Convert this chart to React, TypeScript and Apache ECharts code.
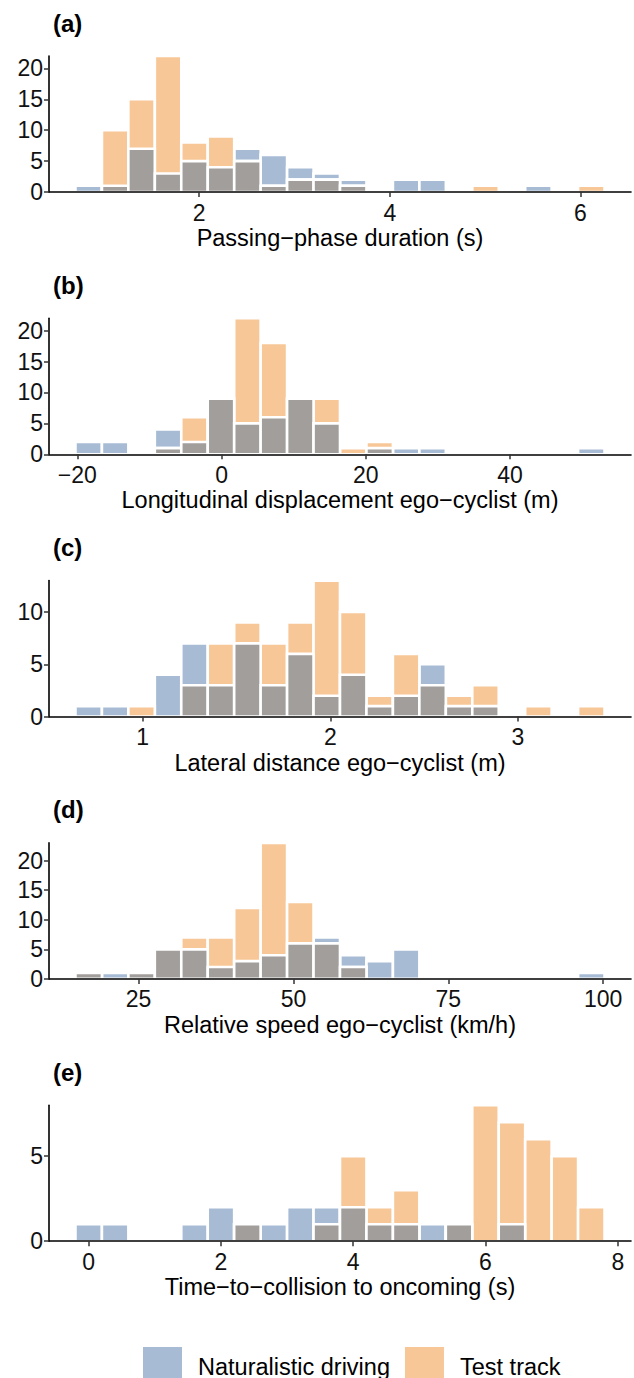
import React, { useEffect, useRef } from 'react';
import * as echarts from 'echarts';

// ---------- colours ----------
const BLUE = '#a7bcd4';
const ORANGE = '#f7c797';
const GREY = '#a29e9c';
const FONT = '"Liberation Sans", Arial, Helvetica, sans-serif';

// ---------- data ----------
const panelLabels = ['(a)', '(b)', '(c)', '(d)', '(e)'];
const axisTitles = [
  'Passing\u2212phase duration (s)',
  'Longitudinal displacement ego\u2212cyclist (m)',
  'Lateral distance ego\u2212cyclist (m)',
  'Relative speed ego\u2212cyclist (km/h)',
  'Time\u2212to\u2212collision to oncoming (s)',
];
const seriesNames = ['Naturalistic driving', 'Test track'];

// (a) Passing-phase duration
const binWidthA = 0.2776;
const centersA = [0.840, 1.118, 1.395, 1.673, 1.950, 2.228, 2.506, 2.783, 3.061, 3.338, 3.616, 3.894, 4.171, 4.449, 4.726, 5.004, 5.282, 5.559, 5.837, 6.114];
const naturalA = [1, 1, 7, 3, 5, 4, 7, 6, 4, 3, 2, 0, 2, 2, 0, 0, 0, 1, 0, 0];
const testA = [0, 10, 15, 22, 8, 9, 5, 1, 2, 2, 1, 0, 0, 0, 0, 1, 0, 0, 0, 1];
const xTicksA = [2, 4, 6];
const yTicksA = [0, 5, 10, 15, 20];

// (b) Longitudinal displacement
const binWidthB = 3.668;
const centersB = [-18.42, -14.752, -11.084, -7.416, -3.748, -0.08, 3.588, 7.256, 10.924, 14.592, 18.26, 21.928, 25.596, 29.264, 32.932, 36.6, 40.268, 43.936, 47.604, 51.272];
const naturalB = [2, 2, 0, 4, 2, 9, 5, 6, 9, 5, 0, 1, 1, 1, 0, 0, 0, 0, 0, 1];
const testB = [0, 0, 0, 1, 6, 9, 22, 18, 9, 9, 1, 2, 0, 0, 0, 0, 0, 0, 0, 0];
const xTicksB = [-20, 0, 20, 40];
const yTicksB = [0, 5, 10, 15, 20];

// (c) Lateral distance
const binWidthC = 0.141;
const centersC = [0.712, 0.853, 0.994, 1.135, 1.276, 1.417, 1.558, 1.699, 1.840, 1.981, 2.122, 2.263, 2.404, 2.545, 2.686, 2.827, 2.968, 3.109, 3.250, 3.391];
const naturalC = [1, 1, 0, 4, 7, 3, 7, 3, 6, 2, 4, 1, 2, 5, 1, 1, 0, 0, 0, 0];
const testC = [0, 0, 1, 0, 3, 7, 9, 7, 9, 13, 10, 2, 6, 3, 2, 3, 0, 1, 0, 1];
const xTicksC = [1, 2, 3];
const yTicksC = [0, 5, 10];

// (d) Relative speed
const binWidthD = 4.27;
const centersD = [16.95, 21.22, 25.49, 29.76, 34.03, 38.30, 42.57, 46.84, 51.11, 55.38, 59.65, 63.92, 68.19, 72.46, 76.73, 81.00, 85.27, 89.54, 93.81, 98.08];
const naturalD = [1, 1, 1, 5, 5, 2, 3, 4, 6, 7, 4, 3, 5, 0, 0, 0, 0, 0, 0, 1];
const testD = [1, 0, 1, 5, 7, 7, 12, 23, 13, 6, 2, 0, 0, 0, 0, 0, 0, 0, 0, 0];
const xTicksD = [25, 50, 75, 100];
const yTicksD = [0, 5, 10, 15, 20];

// (e) Time-to-collision
const binWidthE = 0.4;
const centersE = [0, 0.4, 0.8, 1.2, 1.6, 2.0, 2.4, 2.8, 3.2, 3.6, 4.0, 4.4, 4.8, 5.2, 5.6, 6.0, 6.4, 6.8, 7.2, 7.6];
const naturalE = [1, 1, 0, 0, 1, 2, 1, 1, 2, 2, 2, 1, 1, 1, 1, 0, 1, 0, 0, 0];
const testE = [0, 0, 0, 0, 0, 0, 1, 0, 0, 1, 5, 2, 3, 0, 1, 8, 7, 6, 5, 2];
const xTicksE = [0, 2, 4, 6, 8];
const yTicksE = [0, 5];

const panels = [
  { w: binWidthA, centers: centersA, natural: naturalA, test: testA, xTicks: xTicksA, yTicks: yTicksA },
  { w: binWidthB, centers: centersB, natural: naturalB, test: testB, xTicks: xTicksB, yTicks: yTicksB },
  { w: binWidthC, centers: centersC, natural: naturalC, test: testC, xTicks: xTicksC, yTicks: yTicksC },
  { w: binWidthD, centers: centersD, natural: naturalD, test: testD, xTicks: xTicksD, yTicks: yTicksD },
  { w: binWidthE, centers: centersE, natural: naturalE, test: testE, xTicks: xTicksE, yTicks: yTicksE },
];

// ---------- layout ----------
const GRID_LEFT = 49;
const GRID_WIDTH = 582;
const FIRST_TOP = 56;
const STEP = 262.3;
const PLOT_H = 136;
const TICK_FONT = 23;
const TITLE_FONT = 23.5;

const fmt = (v: number) => (v < 0 ? '\u2212' + Math.abs(v) : String(v));

function makeRender(color: string) {
  return (params: any, api: any) => {
    const c = api.value(0);
    const h = api.value(1);
    const w = api.value(2);
    if (!h) return null;
    const p0 = api.coord([c - w / 2, h]);
    const p1 = api.coord([c + w / 2, 0]);
    return {
      type: 'rect',
      shape: { x: p0[0], y: p0[1], width: p1[0] - p0[0], height: p1[1] - p0[1] },
      style: { fill: color, stroke: '#ffffff', lineWidth: 2.6 },
    };
  };
}

export default function App() {
  const ref = useRef<HTMLDivElement>(null);
  useEffect(() => {
    const chart = echarts.init(ref.current!, null, { renderer: 'svg' });
    const grid: any[] = [];
    const xAxis: any[] = [];
    const yAxis: any[] = [];
    const series: any[] = [];
    const graphic: any[] = [];

    panels.forEach((p, i) => {
      const top = FIRST_TOP + i * STEP;
      grid.push({ left: GRID_LEFT, top, width: GRID_WIDTH, height: PLOT_H });
      const n = p.centers.length;
      const xmin = p.centers[0] - 1.5 * p.w;
      const xmax = p.centers[n - 1] + 1.5 * p.w;
      const ymax = Math.max(...p.natural, ...p.test);
      xAxis.push({
        type: 'value',
        gridIndex: i,
        min: xmin,
        max: xmax,
        z: 10,
        name: axisTitles[i],
        nameLocation: 'middle',
        nameGap: 34,
        nameTextStyle: { fontSize: TITLE_FONT, color: '#000', fontFamily: FONT },
        axisLine: { show: true, onZero: false, lineStyle: { color: '#000', width: 1.6 } },
        axisTick: { show: true, length: 5, customValues: p.xTicks, lineStyle: { color: '#333', width: 1.5 } },
        axisLabel: { show: true, customValues: p.xTicks, formatter: fmt, margin: 9, fontSize: TICK_FONT, color: '#111', fontFamily: FONT },
        splitLine: { show: false },
      });
      yAxis.push({
        type: 'value',
        gridIndex: i,
        min: 0,
        max: ymax,
        interval: 5,
        z: 10,
        axisLine: { show: true, onZero: false, lineStyle: { color: '#000', width: 1.6 } },
        axisTick: { show: true, length: 5, customValues: p.yTicks, lineStyle: { color: '#333', width: 1.5 } },
        axisLabel: { show: true, customValues: p.yTicks, margin: 6, fontSize: TICK_FONT, color: '#111', fontFamily: FONT },
        splitLine: { show: false },
      });
      const dNat = p.centers.map((c, k) => [c, p.natural[k], p.w]);
      const dTest = p.centers.map((c, k) => [c, p.test[k], p.w]);
      const dMin = p.centers.map((c, k) => [c, Math.min(p.natural[k], p.test[k]), p.w]);
      series.push({
        type: 'custom', name: seriesNames[0], xAxisIndex: i, yAxisIndex: i,
        itemStyle: { color: BLUE }, renderItem: makeRender(BLUE), data: dNat,
      });
      series.push({
        type: 'custom', name: seriesNames[1], xAxisIndex: i, yAxisIndex: i,
        itemStyle: { color: ORANGE }, renderItem: makeRender(ORANGE), data: dTest,
      });
      series.push({
        type: 'custom', name: 'Overlap', xAxisIndex: i, yAxisIndex: i,
        itemStyle: { color: GREY }, renderItem: makeRender(GREY), data: dMin,
      });
      graphic.push({
        type: 'text',
        x: 53,
        y: top - 33,
        style: {
          text: panelLabels[i],
          fontSize: 24,
          fontWeight: 'bold',
          fontFamily: FONT,
          fill: '#000',
          align: 'left',
          verticalAlign: 'middle',
        },
      });
    });

    chart.setOption({
      animation: false,
      backgroundColor: '#ffffff',
      textStyle: { fontFamily: FONT },
      grid,
      xAxis,
      yAxis,
      series,
      graphic,
      legend: {
        data: [
          { name: seriesNames[0], icon: 'rect' },
          { name: seriesNames[1], icon: 'rect' },
        ],
        left: 138,
        top: 1342,
        itemWidth: 39,
        itemHeight: 39,
        itemGap: 15,
        selectedMode: false,
        itemStyle: { borderWidth: 0 },
        textStyle: { fontSize: TITLE_FONT, color: '#000', fontFamily: FONT, padding: [0, 0, 0, 11] },
      },
    });
    return () => chart.dispose();
  }, []);
  return (
    <div
      ref={ref}
      style={{ position: 'absolute', left: 0, top: 0, width: 634, height: 1378 }}
    />
  );
}
